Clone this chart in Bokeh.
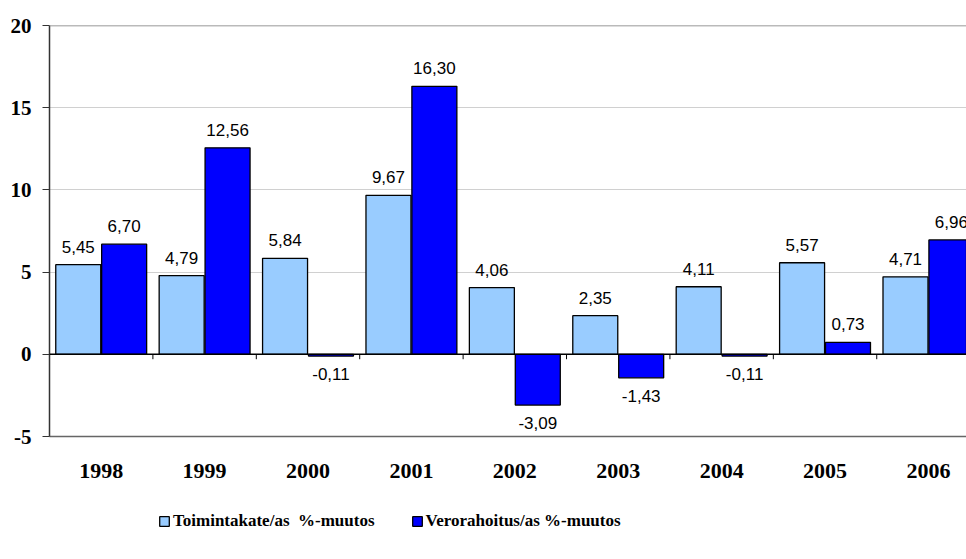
from bokeh.plotting import figure
from bokeh.layouts import column
from bokeh.models import ColumnDataSource, Range1d, FixedTicker, Span, Legend, LegendItem
from bokeh.transform import dodge
from bokeh.core.properties import value
from bokeh.embed import file_html
from bokeh.resources import INLINE

years = ["1998", "1999", "2000", "2001", "2002", "2003", "2004", "2005", "2006"]
toimintakate = [5.45, 4.79, 5.84, 9.67, 4.06, 2.35, 4.11, 5.57, 4.71]
verorahoitus = [6.70, 12.56, -0.11, 16.30, -3.09, -1.43, -0.11, 0.73, 6.96]
series_names = ["Toimintakate/as  %-muutos", "Verorahoitus/as %-muutos"]
colors = ["#99CCFF", "#0000FF"]
y_ticks = [-5, 0, 5, 10, 15, 20]

idx = list(range(1, len(years) + 1))


def fmt(v):
    return f"{v:.2f}".replace(".", ",")


def src(vals):
    return ColumnDataSource(dict(
        x=idx, top=vals,
        label=[fmt(v) for v in vals],
        off=[-18 if v >= 0 else 18 for v in vals],
    ))


s1 = src(toimintakate)
s2 = src(verorahoitus)

p = figure(width=966, height=490, output_backend="svg", toolbar_location=None,
           x_range=Range1d(0.5, 9.368), y_range=Range1d(-5, 20),
           min_border_left=49, min_border_right=0, min_border_top=25, min_border_bottom=54)
p.background_fill_color = "white"
p.border_fill_color = "white"
p.outline_line_color = None

OFF = 0.222
W = 0.435
p.vbar(x=dodge("x", -OFF), top="top", bottom=0, width=W, source=s1,
       fill_color=colors[0], line_color="black", line_width=1.3)
p.vbar(x=dodge("x", OFF), top="top", bottom=0, width=W, source=s2,
       fill_color=colors[1], line_color="black", line_width=1.3)

for s, d in ((s1, -OFF), (s2, OFF)):
    p.text(x=dodge("x", d), y="top", text="label", source=s, y_offset="off",
           text_align="center", text_baseline="alphabetic",
           text_font=value("Liberation Sans"), text_font_size="17px", text_color="black")

# zero line and category boundary ticks
p.add_layout(Span(location=0, dimension="width", line_color="black", line_width=1.5))
bounds = [i + 0.5 for i in idx[:-1]]
p.segment(x0=bounds, x1=bounds, y0=[0] * len(bounds), y1=[-0.3] * len(bounds),
          line_color="black", line_width=1)
p.add_layout(Span(location=20, dimension="width", line_color="#777777", line_width=1.5))

# y axis
p.yaxis.ticker = FixedTicker(ticks=y_ticks)
p.yaxis.major_label_overrides = {t: str(t) for t in y_ticks}
p.yaxis.major_label_text_font = "Liberation Serif"
p.yaxis.major_label_text_font_style = "bold"
p.yaxis.major_label_text_font_size = "21px"
p.yaxis.major_label_text_color = "black"
p.yaxis.major_tick_out = 7
p.yaxis.major_tick_in = 0
p.yaxis.minor_tick_out = 0
p.yaxis.minor_tick_in = 0
p.yaxis.major_label_standoff = 11
p.yaxis.axis_line_color = "#333333"
p.yaxis.axis_line_width = 1.5
p.yaxis.major_tick_line_color = "#333333"

# x axis
p.xaxis.ticker = FixedTicker(ticks=idx)
p.xaxis.major_label_overrides = {i: y for i, y in zip(idx, years)}
p.xaxis.major_label_text_font = "Liberation Serif"
p.xaxis.major_label_text_font_style = "bold"
p.xaxis.major_label_text_font_size = "22px"
p.xaxis.major_label_text_color = "black"
p.xaxis.major_tick_out = 0
p.xaxis.major_tick_in = 0
p.xaxis.minor_tick_out = 0
p.xaxis.minor_tick_in = 0
p.xaxis.major_label_standoff = 27
p.xaxis.axis_line_color = "#666666"
p.xaxis.axis_line_width = 1.5

p.xgrid.grid_line_color = None
p.ygrid.ticker = FixedTicker(ticks=[5, 10, 15])
p.ygrid.grid_line_color = "#D0D0D0"
p.ygrid.grid_line_width = 1

# legend strip below the chart (hidden series, only their legend entries show)
q = figure(width=966, height=69, output_backend="svg", toolbar_location=None,
           x_range=Range1d(0.5, 9.368), y_range=Range1d(-5, 20),
           min_border_left=49, min_border_right=0, min_border_top=0, min_border_bottom=0)
q.axis.visible = False
q.grid.visible = False
q.outline_line_color = None
q.border_fill_color = "white"
q.background_fill_color = "white"
l1 = q.vbar(x="x", top="top", bottom=0, width=W, source=s1,
            fill_color=colors[0], line_color="black", line_width=1.3)
l2 = q.vbar(x="x", top="top", bottom=0, width=W, source=s2,
            fill_color=colors[1], line_color="black", line_width=1.3)
l1.visible = False
l2.visible = False

lg = Legend(items=[LegendItem(label=series_names[0], renderers=[l1], index=0),
                   LegendItem(label=series_names[1], renderers=[l2], index=0)],
            location=(109, 28), orientation="horizontal", padding=0, margin=0, spacing=36,
            glyph_width=12, glyph_height=12, label_standoff=3,
            border_line_color=None, background_fill_alpha=0,
            inactive_fill_alpha=0,
            label_text_font="Liberation Serif", label_text_font_style="bold",
            label_text_font_size="17px", label_text_color="black")
q.add_layout(lg, "center")

open("out.html", "w").write(file_html(column(p, q, spacing=0), INLINE))
